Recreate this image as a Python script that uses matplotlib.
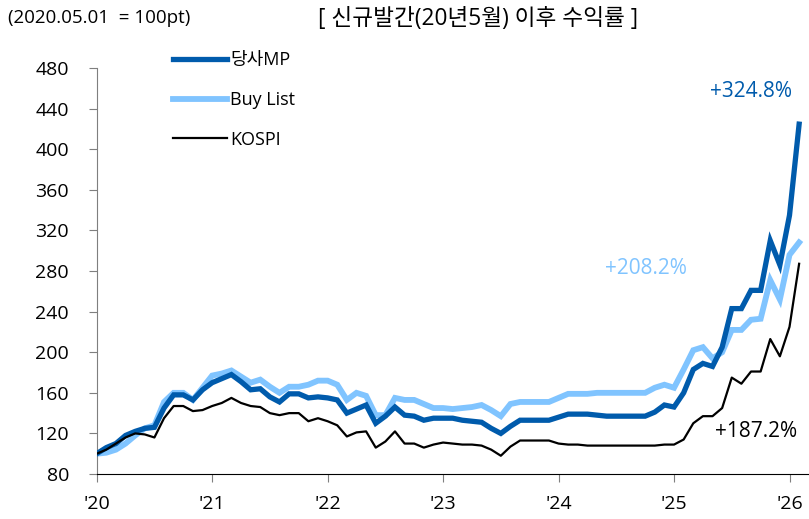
import matplotlib
matplotlib.use('Agg')
import matplotlib.pyplot as plt

plt.rcParams['font.family'] = ['Open Sans', 'Noto Sans CJK KR', 'DejaVu Sans']

# Monthly index, 2020.05.01 = 100
mp = [100, 106, 110, 118, 122, 125, 126, 145, 158, 158,
      153, 163, 170, 174, 178, 171, 163, 164, 156, 151,
      159, 159, 155, 156, 155, 153, 140, 144, 148, 130,
      137, 146, 138, 137, 133, 135, 135, 135, 133, 132,
      131, 125, 120, 127, 133, 133, 133, 133, 136, 139,
      139, 139, 138, 137, 137, 137, 137, 137, 141, 148,
      146, 160, 183, 189, 186, 205, 243, 243, 261, 261,
      310, 286, 335, 424.8]
buy_list = [100, 101, 104, 110, 118, 125, 128, 151, 160, 160,
            153, 165, 177, 179, 182, 176, 170, 173, 166, 160,
            166, 166, 168, 172, 172, 168, 153, 160, 157, 138,
            138, 155, 153, 153, 149, 145, 145, 144, 145, 146,
            148, 143, 137, 149, 151, 151, 151, 151, 155, 159,
            159, 159, 160, 160, 160, 160, 160, 160, 165, 168,
            165, 183, 202, 205, 194, 200, 222, 222, 232, 233,
            271, 252, 296, 308.2]
kospi = [100, 104, 110, 116, 120, 119, 116, 135, 147, 147,
         142, 143, 147, 150, 155, 150, 147, 146, 140, 138,
         140, 140, 132, 135, 132, 128, 117, 121, 122, 106,
         112, 122, 110, 110, 106, 109, 111, 110, 109, 109,
         108, 104, 98, 107, 113, 113, 113, 113, 110, 109,
         109, 108, 108, 108, 108, 108, 108, 108, 108, 109,
         109, 114, 130, 137, 137, 145, 175, 169, 181, 181,
         213, 196, 225, 287.2]

year_labels = ["'20", "'21", "'22", "'23", "'24", "'25", "'26"]
legend_names = ['당사MP', 'Buy List', 'KOSPI']
final_returns = ['+324.8%', '+208.2%', '+187.2%']

DARK_BLUE = '#005BAC'
LIGHT_BLUE = '#80C4FF'
BLACK = '#000000'

fig = plt.figure(figsize=(8.09, 5.19), dpi=100)
ax = fig.add_axes([0.1195, 0.0867, 0.879, 0.782])

x = list(range(len(mp)))
l_buy, = ax.plot(x, buy_list, color=LIGHT_BLUE, lw=4.2, zorder=2,
                 solid_joinstyle='miter')
l_mp, = ax.plot(x, mp, color=DARK_BLUE, lw=3.8, zorder=3,
                solid_joinstyle='miter')
l_ks, = ax.plot(x, kospi, color=BLACK, lw=1.6, zorder=4)

ax.set_xlim(0, 73.9)
ax.set_ylim(80, 480)
ax.set_yticks(range(80, 481, 40))
ax.set_xticks(range(0, 12 * len(year_labels), 12))
ax.set_xticklabels(year_labels)

for side in ['top', 'right']:
    ax.spines[side].set_visible(False)
ax.spines['left'].set_color('#7f7f7f')
ax.spines['bottom'].set_color('#000000')
ax.tick_params(axis='y', length=6, color='#7f7f7f', labelsize=14, pad=14)
ax.tick_params(axis='x', length=6, color='#7f7f7f', labelsize=14, pad=9)

# final return labels
ax.text(68.0, 457, final_returns[0], color=DARK_BLUE, fontsize=15,
        ha='center', va='center')
ax.text(57.1, 283, final_returns[1], color=LIGHT_BLUE, fontsize=15,
        ha='center', va='center')
ax.text(68.5, 122, final_returns[2], color=BLACK, fontsize=15,
        ha='center', va='center')

fig.legend([l_mp, l_buy, l_ks], legend_names, loc='upper left',
           bbox_to_anchor=(0.205, 0.915), frameon=False, fontsize=13,
           handlelength=3.0, handletextpad=0.15, labelspacing=1.2,
           borderaxespad=0)

fig.text(0.01, 0.965, '(2020.05.01  = 100pt)', fontsize=13.5, va='center')
fig.text(0.591, 0.963, '[ 신규발간(20년5월) 이후 수익률 ]', fontsize=16.3,
         ha='center', va='center')

fig.savefig('out.png', dpi=100)
